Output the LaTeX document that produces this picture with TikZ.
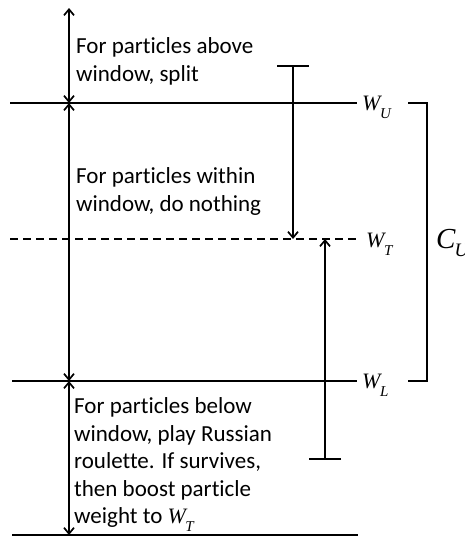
\documentclass[tikz,border=0pt]{standalone}
\usepackage{fontspec}
\setmainfont{Carlito}[Ligatures=NoCommon]
\newfontfamily\tms{Liberation Serif}
\usetikzlibrary{arrows.meta}
\newcommand{\wlab}[1]{{\tms\itshape\fontsize{22}{22}\selectfont W\kern-0.5pt\raisebox{-8pt}{\fontsize{15}{15}\selectfont #1}}}
\begin{document}
\begin{tikzpicture}[x=1pt,y=-1pt,
  level/.style={line width=2pt},
  dashlevel/.style={line width=1.8pt, dash pattern=on 8pt off 5pt},
  arr/.style={line width=1.7pt, {Straight Barb[length=6pt,width=10pt]}-{Straight Barb[length=6pt,width=10pt]}},
  teearr/.style={line width=1.7pt, {Bar[width=32pt]}-{Straight Barb[length=6pt,width=10pt]}},
  brk/.style={line width=1.8pt},
  txt/.style={anchor=north west, inner sep=0pt, align=left, font=\fontsize{23}{27.5}\selectfont},
  lab/.style={anchor=base west, inner sep=0pt}]
\useasboundingbox (0,0) rectangle (465,538);
\fill[white] (0,0) rectangle (465,538);
% coordinates
\coordinate (top) at (69,8);
\coordinate (uL) at (10,103); \coordinate (uA) at (69,103); \coordinate (uR) at (357,103);
\coordinate (tL) at (10,239); \coordinate (tR) at (357,239);
\coordinate (lL) at (12,381); \coordinate (lA) at (69,381); \coordinate (lR) at (357,381);
\coordinate (bL) at (12,535); \coordinate (bA) at (69,535); \coordinate (bR) at (358,535);
\coordinate (splitS) at (293,65); \coordinate (splitE) at (293,239);
\coordinate (rrS) at (325,460); \coordinate (rrE) at (325,239);
\coordinate (b1) at (408,103); \coordinate (b2) at (427,103);
\coordinate (b3) at (427,381); \coordinate (b4) at (408,381);
% levels
\draw[level] (uL) -- (uR);
\draw[dashlevel] (tL) -- (tR);
\draw[level] (lL) -- (lR);
\draw[level] (bL) -- (bR);
% arrows
\draw[arr] (top) -- (uA);
\draw[arr] (uA) -- (lA);
\draw[arr] (lA) -- (bA);
\draw[teearr] (splitS) -- (splitE);
\draw[teearr] (rrS) -- (rrE);
% bracket
\draw[brk] (b1) -- (b2) -- (b3) -- (b4);
% labels
\node[lab] (WU) at (362,110) {\wlab{U}};
\node[lab] (WT) at (366,247) {\wlab{T}};
\node[lab] (WL) at (362,388) {\wlab{L}};
\node[lab] (CU) at (436,248) {{\tms\itshape\fontsize{29}{29}\selectfont C\kern-1pt\raisebox{-8pt}{\fontsize{19}{19}\selectfont U}}};
% texts
\node[txt] (above) at (76,37.7) {For particles above\\window, split};
\node[txt] (within) at (76,167.7) {For particles within\\window, do nothing};
\node[txt] (below) at (74,397.7) {For particles below\\window, play Russian\\roulette. If survives,\\then boost particle\\weight to \wlab{T}};
\end{tikzpicture}
\end{document}
